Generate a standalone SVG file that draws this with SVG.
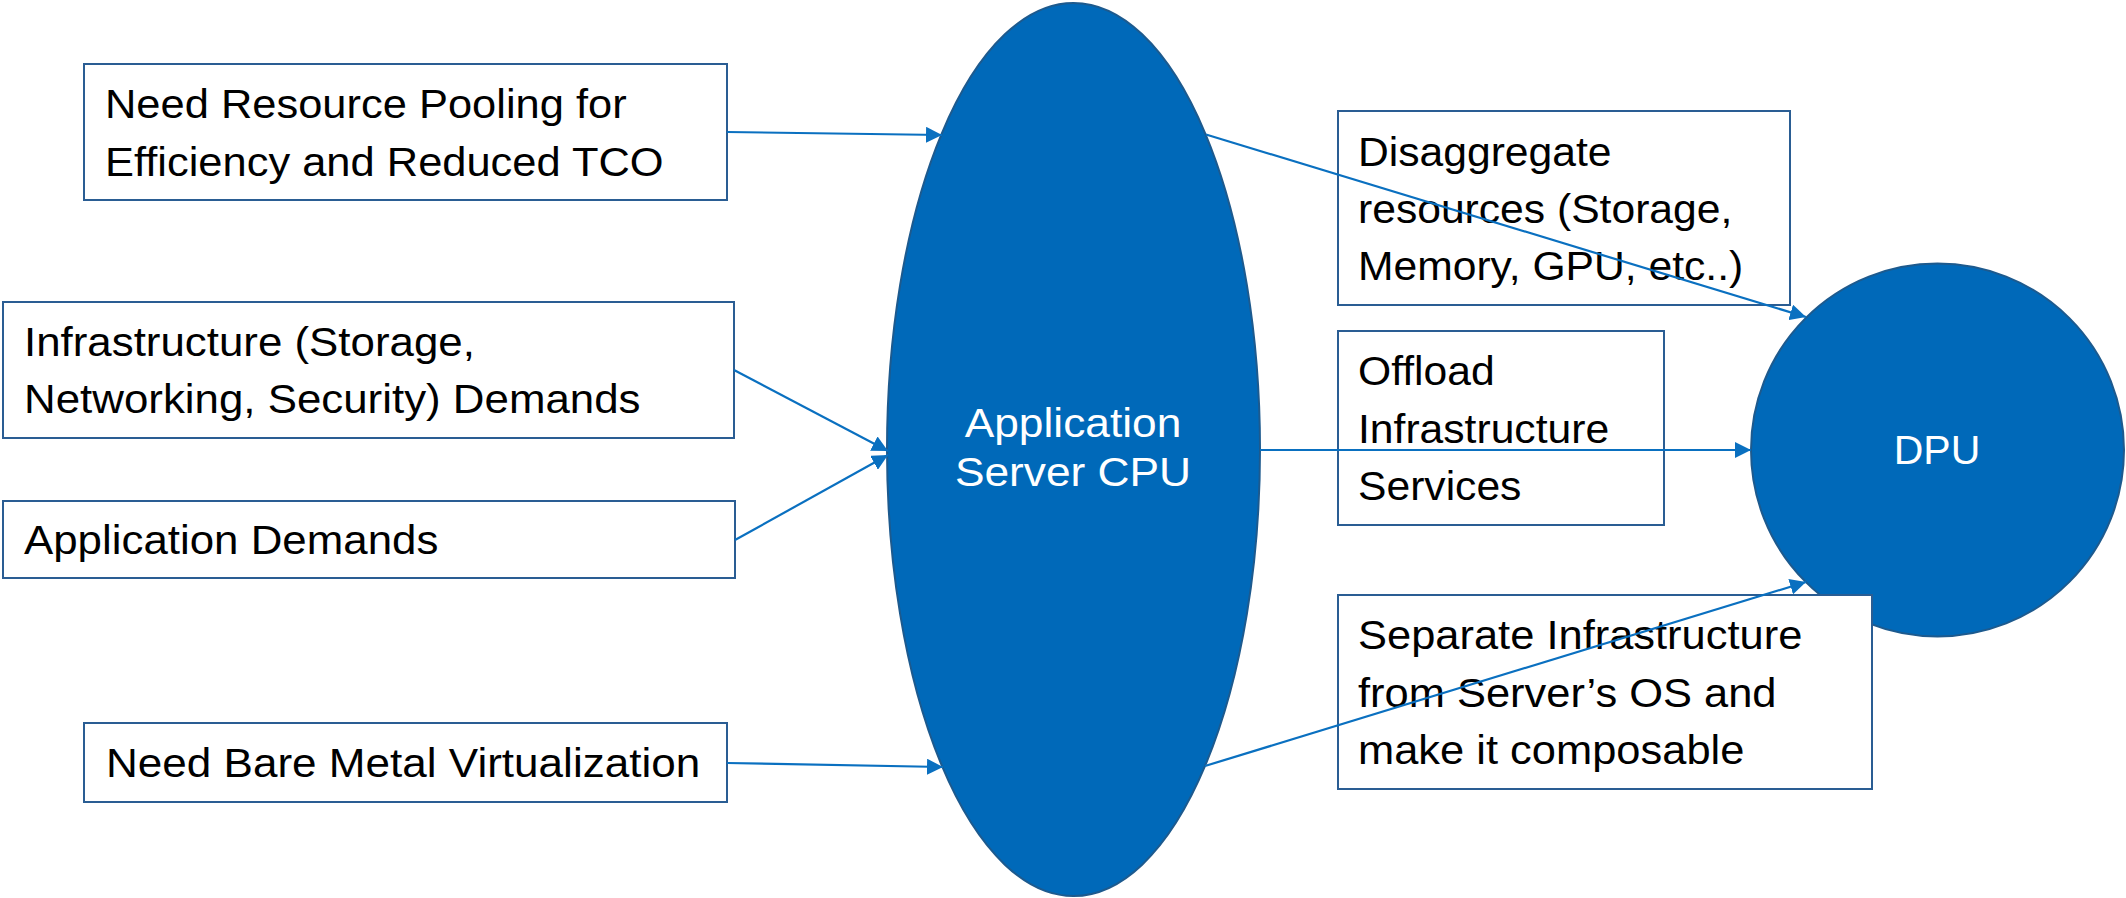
<svg xmlns="http://www.w3.org/2000/svg" width="2126" height="898" viewBox="0 0 2126 898">
  <style>
    .box { fill: #ffffff; stroke: #2a5d93; stroke-width: 2; }
    .blob { fill: #0069b9; stroke: #1d5a8e; stroke-width: 2; }
    .lbl { font-family: "Liberation Sans", Arial, sans-serif; font-size: 41px; fill: #000000; }
    .wlbl { font-family: "Liberation Sans", Arial, sans-serif; font-size: 41px; fill: #ffffff; text-anchor: middle; }
    .edge { fill: none; stroke: #0a70c0; stroke-width: 2.2; marker-end: url(#arrow); }
  </style>
  <defs>
    <marker id="arrow" viewBox="0 0 10 10" refX="10" refY="5" markerUnits="userSpaceOnUse" markerWidth="16" markerHeight="16" orient="auto">
      <path d="M0,0 L10,5 L0,10 Z" fill="#0a70c0"/>
    </marker>
  </defs>
  <rect width="2126" height="898" fill="#ffffff"/>

  <g id="cpu">
    <ellipse class="blob" cx="1073.5" cy="449.5" rx="186.5" ry="446.5"/>
    <!-- labels widened slightly about their own anchor -->
    <g transform="matrix(1.08 0 0 1 -85.84 0)">
      <text class="wlbl" x="1073" y="437">Application</text>
      <text class="wlbl" x="1073" y="486">Server CPU</text>
    </g>
  </g>

  <g id="dpu">
    <circle class="blob" cx="1937.5" cy="450" r="186.5"/>
    <text class="wlbl" x="1937" y="464">DPU</text>
  </g>

  <g id="resource-pooling">
    <rect class="box" x="84" y="64" width="643" height="136"/>
    <g transform="matrix(1.06 0 0 1 -6.3 0)">
      <text class="lbl" x="105" y="118">Need Resource Pooling for</text>
      <text class="lbl" x="105" y="176">Efficiency and Reduced TCO</text>
    </g>
  </g>

  <g id="infra-demands">
    <rect class="box" x="3" y="302" width="731" height="136"/>
    <g transform="matrix(1.07 0 0 1 -1.68 0)">
      <text class="lbl" x="24" y="356">Infrastructure (Storage,</text>
      <text class="lbl" x="24" y="413">Networking, Security) Demands</text>
    </g>
  </g>

  <g id="app-demands">
    <rect class="box" x="3" y="501" width="732" height="77"/>
    <g transform="matrix(1.07 0 0 1 -1.68 0)">
      <text class="lbl" x="24" y="554">Application Demands</text>
    </g>
  </g>

  <g id="bare-metal">
    <rect class="box" x="84" y="723" width="643" height="79"/>
    <g transform="matrix(1.075 0 0 1 -7.95 0)">
      <text class="lbl" x="106" y="777">Need Bare Metal Virtualization</text>
    </g>
  </g>

  <g id="disaggregate">
    <rect class="box" x="1338" y="111" width="452" height="194"/>
    <g transform="matrix(1.04 0 0 1 -54.32 0)">
      <text class="lbl" x="1358" y="166">Disaggregate</text>
      <text class="lbl" x="1358" y="223">resources (Storage,</text>
      <text class="lbl" x="1358" y="280">Memory, GPU, etc..)</text>
    </g>
  </g>

  <g id="offload">
    <rect class="box" x="1338" y="331" width="326" height="194"/>
    <g transform="matrix(1.04 0 0 1 -54.32 0)">
      <text class="lbl" x="1358" y="385">Offload</text>
      <text class="lbl" x="1358" y="443">Infrastructure</text>
      <text class="lbl" x="1358" y="500">Services</text>
    </g>
  </g>

  <g id="separate">
    <rect class="box" x="1338" y="595" width="534" height="194"/>
    <g transform="matrix(1.06 0 0 1 -81.48 0)">
      <text class="lbl" x="1358" y="649">Separate Infrastructure</text>
      <text class="lbl" x="1358" y="707">from Server’s OS and</text>
      <text class="lbl" x="1358" y="764">make it composable</text>
    </g>
  </g>

  <g id="connectors">
    <line class="edge" x1="727" y1="132" x2="942" y2="135"/>
    <line class="edge" x1="734" y1="370" x2="888" y2="451"/>
    <line class="edge" x1="735" y1="540" x2="888" y2="455"/>
    <line class="edge" x1="727" y1="763" x2="943" y2="767"/>
    <line class="edge" x1="1206" y1="134.5" x2="1806" y2="317"/>
    <line class="edge" x1="1260" y1="450" x2="1751" y2="450"/>
    <line class="edge" x1="1205" y1="766" x2="1806" y2="582"/>
  </g>
</svg>
